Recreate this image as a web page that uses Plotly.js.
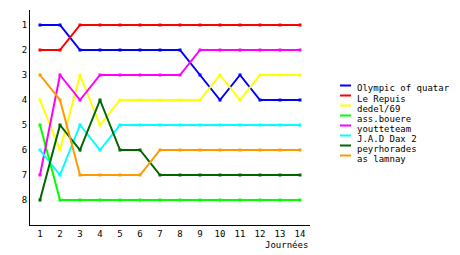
<!DOCTYPE html>
<html><head><meta charset="utf-8">
<script src="https://cdn.plot.ly/plotly-3.0.1.min.js"></script>
<style>body{margin:0;background:#fff}#c{width:460px;height:255px}</style>
</head><body><div id="c"></div>
<script>
const rounds = [1,2,3,4,5,6,7,8,9,10,11,12,13,14];
const teamNames = ["Olympic of quatar","Le Repuis","dedel/69","ass.bouere","youtteteam","J.A.D Dax 2","peyrhorades","as lamnay"];
const olympic   = [1,1,2,2,2,2,2,2,3,4,3,4,4,4];
const repuis    = [2,2,1,1,1,1,1,1,1,1,1,1,1,1];
const dedel     = [4,6,3,5,4,4,4,4,4,3,4,3,3,3];
const bouere    = [5,8,8,8,8,8,8,8,8,8,8,8,8,8];
const youtte    = [7,3,4,3,3,3,3,3,2,2,2,2,2,2];
const jadDax    = [6,7,5,6,5,5,5,5,5,5,5,5,5,5];
const peyr      = [8,5,6,4,6,6,7,7,7,7,7,7,7,7];
const lamnay    = [3,4,7,7,7,7,6,6,6,6,6,6,6,6];
const seriesValues = [olympic,repuis,dedel,bouere,youtte,jadDax,peyr,lamnay];
const colors = ["#0000ff","#ff0000","#ffff00","#00ff00","#ff00ff","#00ffff","#006600","#ff9900"];
const yTicks = [1,2,3,4,5,6,7,8];
const xLabel = "Journées";

const font = {family:"DejaVu Sans Mono, monospace", size:9, color:"#000"};
const traces = seriesValues.map((v,i)=>({
  x: rounds, y: v, name: teamNames[i], type:"scatter", mode:"lines+markers",
  line:{color:colors[i], width:2}, marker:{color:colors[i], symbol:"square", size:3},
  showlegend:false, hoverinfo:"skip"
}));

// custom compact legend
const px = v => (v-30)/280, py = v => (225-v)/215;
const shapes = [], annotations = [];
teamNames.forEach((n,i)=>{
  const yy = 85.5 + i*10;
  shapes.push({type:"line", xref:"paper", yref:"paper", x0:px(340), x1:px(351), y0:py(yy), y1:py(yy), line:{color:colors[i], width:2}});
  annotations.push({xref:"paper", yref:"paper", x:px(355), y:py(yy+3), xanchor:"left", yanchor:"middle", text:n, showarrow:false, font:font});
});
annotations.push({xref:"paper", yref:"paper", x:1, y:0, xanchor:"right", yanchor:"top", yshift:-13, text:xLabel, showarrow:false, font:font});

Plotly.newPlot("c", traces, {
  width:460, height:255, margin:{l:30, r:150, t:10, b:30},
  paper_bgcolor:"#fff", plot_bgcolor:"#fff", font:font,
  xaxis:{range:[0.5,14.5], tickvals:rounds, ticks:"", showgrid:false, zeroline:false, showline:true, linecolor:"#000", linewidth:1, fixedrange:true},
  yaxis:{range:[9,0.4], tickvals:yTicks, ticks:"", showgrid:false, zeroline:false, showline:true, linecolor:"#000", linewidth:1, fixedrange:true},
  shapes:shapes, annotations:annotations
}, {staticPlot:true, displayModeBar:false});
</script></body></html>
